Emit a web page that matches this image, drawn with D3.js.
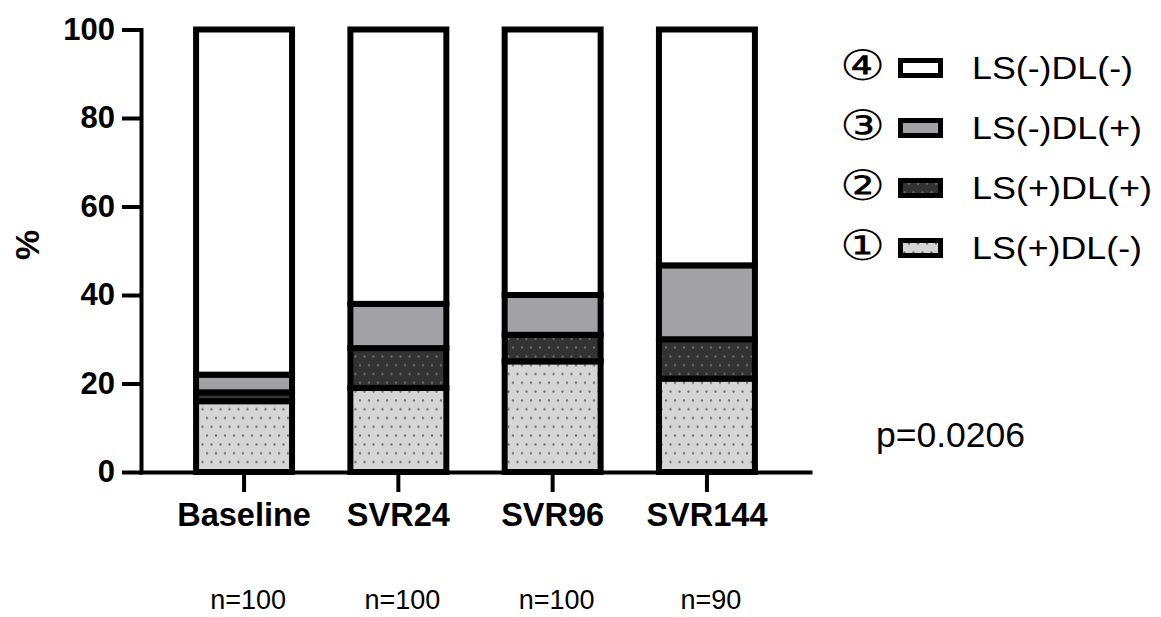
<!DOCTYPE html>
<html>
<head>
<meta charset="utf-8">
<script src="https://cdn.jsdelivr.net/npm/d3@7"></script>
<style>
  html, body { margin: 0; padding: 0; background: #fff; }
  svg { display: block; }
  text { font-family: "Liberation Sans", Arial, sans-serif; fill: #000; }
</style>
</head>
<body>
<svg id="chart" width="1161" height="617"></svg>
<script>
// Time points and group sizes
const categories = ["Baseline", "SVR24", "SVR96", "SVR144"];
const sampleSizes = ["n=100", "n=100", "n=100", "n=90"];

// Percentage of patients in each LS / DL group
const lsPosDlNeg = [16, 19, 25, 21.1];
const lsPosDlPos = [2, 9, 6, 8.9];
const lsNegDlPos = [4, 10, 9, 16.7];
const lsNegDlNeg = [78, 62, 60, 53.3];

const seriesKeys = ["LS(+)DL(-)", "LS(+)DL(+)", "LS(-)DL(+)", "LS(-)DL(-)"];
const seriesMarks = ["①", "②", "③", "④"];
const yTicks = [0, 20, 40, 60, 80, 100];
const pValueLabel = "p=0.0206";

const rows = categories.map((c, i) => ({
  category: c,
  "LS(+)DL(-)": lsPosDlNeg[i],
  "LS(+)DL(+)": lsPosDlPos[i],
  "LS(-)DL(+)": lsNegDlPos[i],
  "LS(-)DL(-)": lsNegDlNeg[i]
}));

const svg = d3.select("#chart");

// Fill patterns: dotted light grey, dotted dark grey
const defs = svg.append("defs");
function dotPattern(id, bg, dot) {
  const p = defs.append("pattern")
    .attr("id", id)
    .attr("patternUnits", "userSpaceOnUse")
    .attr("width", 9).attr("height", 17.6);
  p.append("rect").attr("width", 9).attr("height", 17.6).attr("fill", bg);
  [[4.5, 4.4], [0, 13.2], [9, 13.2]].forEach(([cx, cy]) =>
    p.append("circle").attr("cx", cx).attr("cy", cy).attr("r", 1.15).attr("fill", dot));
}
dotPattern("dotsLight", "#d5d5d5", "#707070");
dotPattern("dotsDark", "#333333", "#6a6a6a");

const fills = {
  "LS(+)DL(-)": "url(#dotsLight)",
  "LS(+)DL(+)": "url(#dotsDark)",
  "LS(-)DL(+)": "#a2a2a6",
  "LS(-)DL(-)": "#ffffff"
};

const x = d3.scaleBand()
  .domain(categories)
  .range([141, 810])
  .paddingInner(0.378)
  .paddingOuter(0.357);

const y = d3.scaleLinear().domain([0, 100]).range([472, 29.5]);

const stacked = d3.stack().keys(seriesKeys)(rows);

// Stacked bars
const layers = svg.append("g").selectAll("g")
  .data(stacked)
  .join("g")
  .attr("fill", d => fills[d.key]);

layers.selectAll("rect")
  .data(d => d)
  .join("rect")
  .attr("x", d => x(d.data.category))
  .attr("width", x.bandwidth())
  .attr("y", d => y(d[1]))
  .attr("height", d => y(d[0]) - y(d[1]))
  .attr("stroke", "#000")
  .attr("stroke-width", 6);

// Y axis
const yAxis = svg.append("g")
  .attr("transform", "translate(141,0)")
  .call(d3.axisLeft(y).tickValues(yTicks).tickSize(19).tickSizeOuter(0).tickPadding(7));
yAxis.select(".domain").attr("stroke-width", 4).attr("stroke-linecap", "square");
yAxis.selectAll(".tick line").attr("stroke-width", 4);
yAxis.selectAll(".tick text")
  .attr("font-family", "Liberation Sans, Arial, sans-serif")
  .attr("font-size", 31).attr("font-weight", "bold");

// X axis
const xAxis = svg.append("g")
  .attr("transform", "translate(0,472)")
  .call(d3.axisBottom(x).tickSize(20).tickSizeOuter(0).tickPadding(11));
xAxis.select(".domain").attr("stroke-width", 4).attr("stroke-linecap", "square");
xAxis.selectAll(".tick line").attr("stroke-width", 4);
xAxis.selectAll(".tick text")
  .attr("font-family", "Liberation Sans, Arial, sans-serif")
  .attr("font-size", 32.5).attr("font-weight", "bold");

// Y axis title
svg.append("text")
  .attr("transform", "translate(39,245) rotate(-90)")
  .attr("text-anchor", "middle")
  .attr("font-size", 34).attr("font-weight", "bold")
  .text("%");

// Group sizes under each time point
svg.append("g").selectAll("text")
  .data(categories)
  .join("text")
  .attr("x", (d, i) => x(d) + x.bandwidth() / 2 + 4)
  .attr("y", 609)
  .attr("text-anchor", "middle")
  .attr("font-size", 27)
  .text((d, i) => sampleSizes[i]);

// Legend (top entry is the top stack layer)
const legendRows = seriesKeys.map((k, i) => ({ key: k, mark: seriesMarks[i] })).reverse();
const legendY = d3.scalePoint().domain(legendRows.map(d => d.key)).range([68, 248]);
const legendWidths = { "LS(-)DL(-)": 161, "LS(-)DL(+)": 170, "LS(+)DL(+)": 180, "LS(+)DL(-)": 170 };

const legend = svg.append("g").selectAll("g")
  .data(legendRows)
  .join("g")
  .attr("transform", d => `translate(0,${legendY(d.key)})`);

legend.append("text")
  .attr("transform", "translate(862,12) scale(1.2,1)")
  .attr("text-anchor", "middle")
  .attr("font-family", "Noto Sans CJK JP, sans-serif")
  .attr("font-weight", 300)
  .attr("font-size", 42)
  .text(d => d.mark);

legend.append("rect")
  .attr("x", 900.5).attr("y", -7.5)
  .attr("width", 40).attr("height", 15)
  .attr("fill", d => fills[d.key])
  .attr("stroke", "#000").attr("stroke-width", 5);

legend.append("text")
  .attr("x", 972).attr("y", 11)
  .attr("font-size", 32)
  .attr("textLength", d => legendWidths[d.key])
  .attr("lengthAdjust", "spacingAndGlyphs")
  .text(d => d.key);

// Test statistic
svg.append("text")
  .attr("x", 876).attr("y", 447)
  .attr("font-size", 35.5)
  .text(pValueLabel);
</script>
</body>
</html>
